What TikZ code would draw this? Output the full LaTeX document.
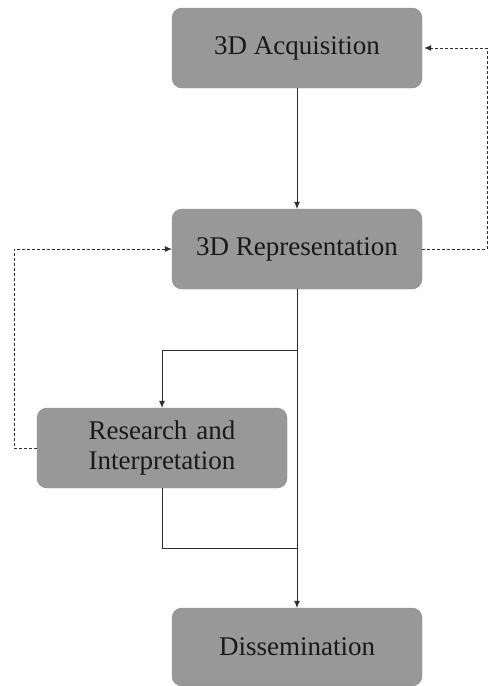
\documentclass[tikz,border=0pt]{standalone}
\usepackage{fontspec}
\usepackage{calc}
\setmainfont{Liberation Serif}
\usetikzlibrary{arrows.meta}
\definecolor{boxgray}{RGB}{152,152,152}
\definecolor{linegray}{RGB}{45,45,45}
\begin{document}
\begin{tikzpicture}[x=1pt, y=-1pt,
    stage/.style={draw=boxgray!90!black, fill=boxgray, rounded corners=10pt,
        minimum width=250pt, minimum height=80pt, inner sep=0pt,
        font=\fontsize{27}{31}\selectfont, text=black!90},
    flow/.style={draw=linegray, line width=0.8pt, -{Latex[length=7pt,width=6pt]}},
    feedback/.style={draw=linegray, line width=0.8pt, dash pattern=on 3pt off 2pt,
        -{Latex[length=7pt,width=6pt]}}]
    \useasboundingbox (0,0) rectangle (488,686);

    % the four stages
    \node[stage] (acq) at (297,48) {3D Acquisition};
    \node[stage] (rep) at (297,249) {3D Representation};
    \node[stage, align=center] (res) at (162,448)
        {\makebox[\widthof{Interpretation}][s]{Research and}\\Interpretation};
    \node[stage, minimum height=78pt] (dis) at (297,647) {Dissemination};

    % branch points on the main line
    \coordinate (split) at (297,350);
    \coordinate (merge) at (297,548);
    \coordinate (leftx) at (14,448);
    \coordinate (rightx) at (487,249);

    % main flow
    \draw[flow] (acq.south) -- (rep.north);
    \draw[flow] (rep.south) -- (dis.north);
    \draw[flow] (split) -| (res.north);
    \draw[draw=linegray, line width=0.8pt] (res.south) |- (merge);

    % feedback loops
    \draw[feedback] (res.west) -- (leftx) |- (rep.west);
    \draw[feedback] (rep.east) -- (rightx) |- ([xshift=2pt]acq.east);
\end{tikzpicture}
\end{document}
